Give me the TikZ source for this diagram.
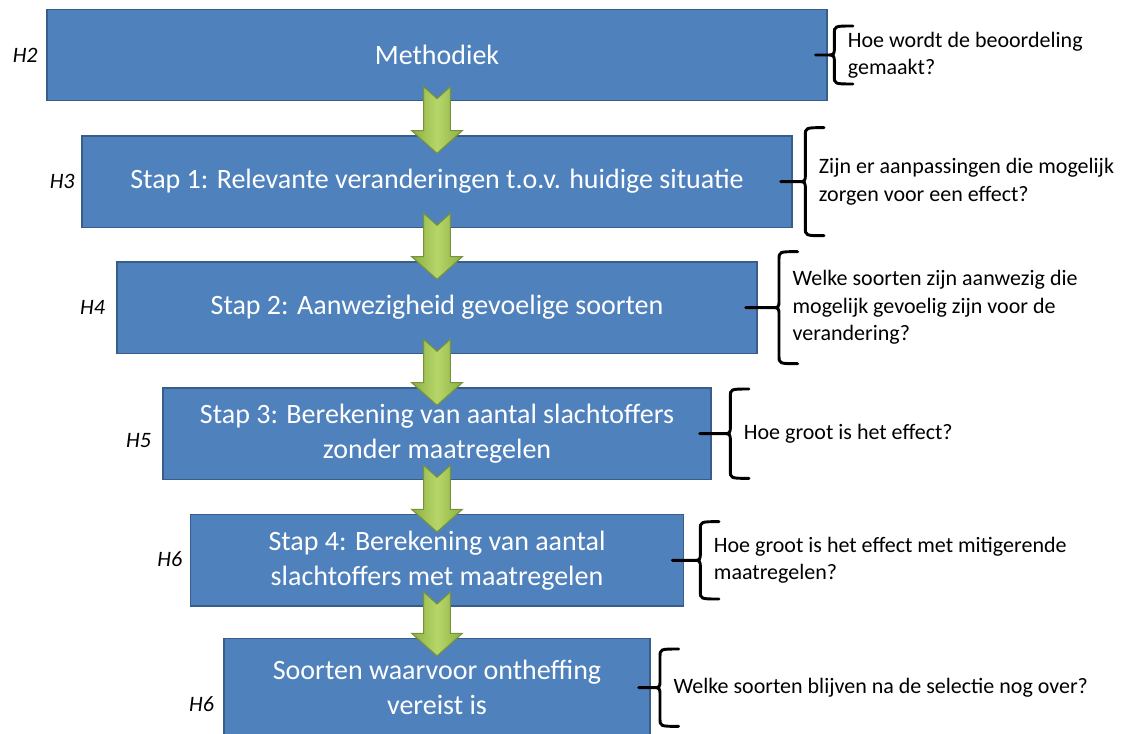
\documentclass[tikz,border=0pt]{standalone}
\usepackage{fontspec}
\setmainfont{Carlito}
\usetikzlibrary{positioning, calc}

\definecolor{boxblue}{HTML}{4F81BD}
\definecolor{boxedge}{HTML}{385D8A}
\definecolor{arrowlight}{HTML}{B7D66A}
\definecolor{arrowdark}{HTML}{8CB040}
\definecolor{arrowedge}{HTML}{76923C}

\begin{document}
\begin{tikzpicture}[
    stepbox/.style={
        draw=boxedge,
        fill=boxblue,
        line width=1pt,
        text=white,
        align=center,
        minimum height=68.5pt,
        font=\fontsize{21}{26.25}\selectfont
    },
    question/.style={
        align=left,
        inner sep=0pt,
        font=\fontsize{16.5}{20.6}\selectfont
    },
    chapter/.style={
        font=\fontsize{16.5}{20}\selectfont\itshape
    },
    flow/.style={
        draw=arrowedge,
        line width=0.8pt,
        left color=arrowdark, right color=arrowdark, middle color=arrowlight,
        to path={
            ($(\tikztostart)+(-10pt,11pt)$) -- ($(\tikztostart)+(0,2pt)$)
            -- ($(\tikztostart)+(10pt,11pt)$) -- ($(\tikztotarget)+(10pt,3.5pt)$)
            -- ($(\tikztotarget)+(19pt,3.5pt)$) -- ($(\tikztotarget)+(0,-13.5pt)$)
            -- ($(\tikztotarget)+(-19pt,3.5pt)$) -- ($(\tikztotarget)+(-10pt,3.5pt)$)
            -- cycle}
    },
    brc/.style={
        line width=2.2pt,
        line cap=round,
        to path={
            ($(\tikztostart)+(-9pt,0)$) -- ($(\tikztotarget)+(-16pt,0)$)
            .. controls ($(\tikztotarget)+(-10pt,0)$) .. ($(\tikztotarget)+(-10pt,6pt)$)
            -- ($(\tikztotarget)+(-10pt,{#1-6pt})$)
            .. controls ($(\tikztotarget)+(-10pt,#1)$) .. ($(\tikztotarget)+(4pt,#1)$)
            ($(\tikztotarget)+(-16pt,0)$)
            .. controls ($(\tikztotarget)+(-10pt,0)$) .. ($(\tikztotarget)+(-10pt,-6pt)$)
            -- ($(\tikztotarget)+(-10pt,{6pt-#1})$)
            .. controls ($(\tikztotarget)+(-10pt,-#1)$) .. ($(\tikztotarget)+(4pt,-#1)$)}
    }
]

\useasboundingbox (0,0) rectangle (844.5pt,-550.5pt);

% Steps
\node[stepbox, minimum width=585pt] (meth) at (327.75pt,-41.25pt) {Methodiek};
\node[stepbox, minimum width=532.5pt, below=25.5pt of meth] (stap1) {Stap 1: Relevante veranderingen t.o.v. huidige situatie};
\node[stepbox, minimum width=480pt, below=25pt of stap1] (stap2) {Stap 2: Aanwezigheid gevoelige soorten};
\node[stepbox, minimum width=411pt, below=25pt of stap2] (stap3) {Stap 3: Berekening van aantal slachtoffers\\zonder maatregelen};
\node[stepbox, minimum width=370pt, below=25.5pt of stap3] (stap4) {Stap 4: Berekening van aantal\\slachtoffers met maatregelen};
\node[stepbox, minimum width=319.5pt, minimum height=73.5pt, below=23.5pt of stap4] (ontheffing) {Soorten waarvoor ontheffing\\vereist is};

% Chapters
\node[chapter, left=3pt of meth] (hmeth) {H2};
\node[chapter, left=1.5pt of stap1] (h1) {H3};
\node[chapter, left=5pt of stap2] (h2) {H4};
\node[chapter, left=5pt of stap3, yshift=-5pt] (h3) {H5};
\node[chapter, left=2pt of stap4, yshift=1pt] (h4) {H6};
\node[chapter, left=3.5pt of ontheffing, yshift=-12pt] (hont) {H6};

% Questions
\node[question, right=15pt of meth] (qmeth) {Hoe wordt de beoordeling\\gemaakt?};
\node[question, right=19.5pt of stap1] (q1) {Zijn er aanpassingen die mogelijk\\zorgen voor een effect?};
\node[question, right=26pt of stap2] (q2) {Welke soorten zijn aanwezig die\\mogelijk gevoelig zijn voor de\\verandering?};
\node[question, right=24pt of stap3] (q3) {Hoe groot is het effect?};
\node[question, right=22pt of stap4] (q4) {Hoe groot is het effect met mitigerende\\maatregelen?};
\node[question, right=17pt of ontheffing] (qont) {Welke soorten blijven na de selectie nog over?};

% Arrows
\draw[flow] (meth.south) to (stap1.north);
\draw[flow] (stap1.south) to (stap2.north);
\draw[flow] (stap2.south) to (stap3.north);
\draw[flow] (stap3.south) to (stap4.north);
\draw[flow] (stap4.south) to (ontheffing.north);

% Braces
\draw[brc=21.75pt] (meth.east) to (qmeth.west);
\draw[brc=40.5pt] (stap1.east) to (q1.west);
\draw[brc=42pt] (stap2.east) to (q2.west);
\draw[brc=33.5pt] (stap3.east) to (q3.west);
\draw[brc=29pt] (stap4.east) to (q4.west);
\draw[brc=29pt] (ontheffing.east) to (qont.west);

\end{tikzpicture}
\end{document}
